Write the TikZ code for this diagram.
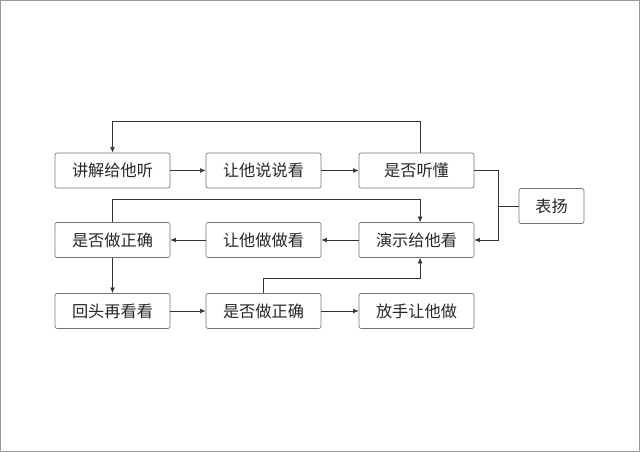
\documentclass[tikz,border=0pt]{standalone}
\usepackage{fontspec}
\newfontfamily\cjk{Noto Sans CJK SC}
\usetikzlibrary{arrows.meta}
\begin{document}
\begin{tikzpicture}[x=0.025cm, y=-0.025cm,
    stepbox/.style = {draw=black!55, line width=0.5pt, rounded corners=1.5pt, minimum width=2.875cm, minimum height=0.875cm, inner sep=0pt, font=\cjk\fontsize{11.5}{13}\selectfont, text=black!85},
    link/.style = {draw=black!80, line width=0.5pt, -{Latex[length=4pt,width=3.5pt]}},
    line/.style = {draw=black!80, line width=0.5pt}]
    \useasboundingbox (0,0) rectangle (640,452);
    \draw[black!40, line width=0.8pt] (0.5,0.5) rectangle (639.5,451.5);
    % first row
    \node [stepbox] (explain) at (112.5,170.5) {讲解给他听};
    \node [stepbox] (retell) at (263.5,170.5) {让他说说看};
    \node [stepbox] (understood) at (416.5,170.5) {是否听懂};
    % second row
    \node [stepbox] (correct1) at (112.5,240) {是否做正确};
    \node [stepbox] (try) at (263.5,240) {让他做做看};
    \node [stepbox] (demo) at (416.5,240) {演示给他看};
    % third row
    \node [stepbox] (review) at (112.5,311) {回头再看看};
    \node [stepbox] (correct2) at (263.5,311) {是否做正确};
    \node [stepbox] (letgo) at (416.5,311) {放手让他做};
    \node [stepbox, minimum width=1.625cm] (praise) at (551.5,206) {表扬};
    \coordinate (split) at (498.5,206);
    % connectors
    \draw [link] (explain) -- (retell);
    \draw [link] (retell) -- (understood);
    \draw [link] ([xshift=0.09cm]understood.north) -- ++(0,-31) -| (explain.north);
    \draw [link] (understood.east) -| (split) |- (demo.east);
    \draw [line] (praise.west) -- (split);
    \draw [link] (demo) -- (try);
    \draw [link] (try) -- (correct1);
    \draw [link] (correct1.north) -- ++(0,-23) -| ([xshift=0.09cm]demo.north);
    \draw [link] (correct1) -- (review);
    \draw [link] (review) -- (correct2);
    \draw [link] (correct2) -- (letgo);
    \draw [link] (correct2.north) -- ++(0,-15) -| ([xshift=0.09cm]demo.south);
\end{tikzpicture}
\end{document}
